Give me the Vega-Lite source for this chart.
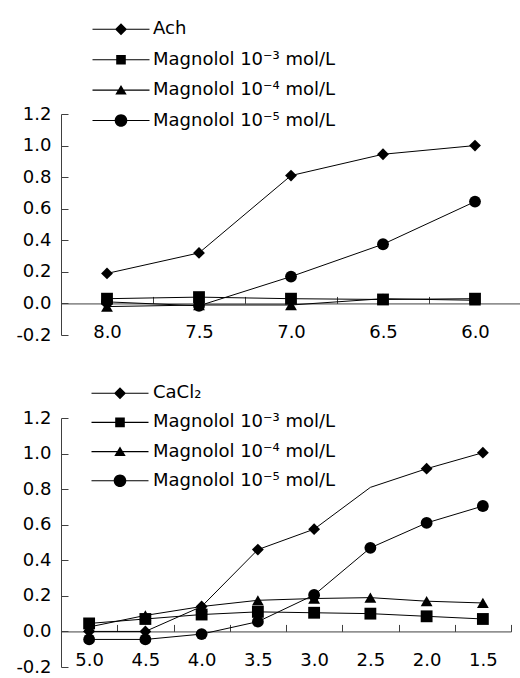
{
  "$schema": "https://vega.github.io/schema/vega-lite/v6.json",
  "padding": {"left": 15, "top": 20, "right": 0, "bottom": 0},
  "spacing": 40,
  "datasets": {
    "top": [
      {"x": "8.0", "s": "Ach", "v": 0.19},
      {"x": "7.5", "s": "Ach", "v": 0.32},
      {"x": "7.0", "s": "Ach", "v": 0.81},
      {"x": "6.5", "s": "Ach", "v": 0.945},
      {"x": "6.0", "s": "Ach", "v": 1.0},
      {"x": "8.0", "s": "Magnolol 10⁻³ mol/L", "v": 0.03},
      {"x": "7.5", "s": "Magnolol 10⁻³ mol/L", "v": 0.04},
      {"x": "7.0", "s": "Magnolol 10⁻³ mol/L", "v": 0.03},
      {"x": "6.5", "s": "Magnolol 10⁻³ mol/L", "v": 0.025},
      {"x": "6.0", "s": "Magnolol 10⁻³ mol/L", "v": 0.03},
      {"x": "8.0", "s": "Magnolol 10⁻⁴ mol/L", "v": -0.02},
      {"x": "7.5", "s": "Magnolol 10⁻⁴ mol/L", "v": -0.01},
      {"x": "7.0", "s": "Magnolol 10⁻⁴ mol/L", "v": -0.01},
      {"x": "6.5", "s": "Magnolol 10⁻⁴ mol/L", "v": 0.03},
      {"x": "6.0", "s": "Magnolol 10⁻⁴ mol/L", "v": 0.02},
      {"x": "8.0", "s": "Magnolol 10⁻⁵ mol/L", "v": 0.01},
      {"x": "7.5", "s": "Magnolol 10⁻⁵ mol/L", "v": -0.015},
      {"x": "7.0", "s": "Magnolol 10⁻⁵ mol/L", "v": 0.17},
      {"x": "6.5", "s": "Magnolol 10⁻⁵ mol/L", "v": 0.375},
      {"x": "6.0", "s": "Magnolol 10⁻⁵ mol/L", "v": 0.645}
    ],
    "bottom": [
      {"x": "5.0", "s": "CaCl₂", "v": 0.0},
      {"x": "4.5", "s": "CaCl₂", "v": 0.0},
      {"x": "4.0", "s": "CaCl₂", "v": 0.14},
      {"x": "3.5", "s": "CaCl₂", "v": 0.46},
      {"x": "3.0", "s": "CaCl₂", "v": 0.575},
      {"x": "2.5", "s": "CaCl₂", "v": 0.81},
      {"x": "2.0", "s": "CaCl₂", "v": 0.915},
      {"x": "1.5", "s": "CaCl₂", "v": 1.005},
      {"x": "5.0", "s": "Magnolol 10⁻³ mol/L", "v": 0.045},
      {"x": "4.5", "s": "Magnolol 10⁻³ mol/L", "v": 0.07},
      {"x": "4.0", "s": "Magnolol 10⁻³ mol/L", "v": 0.095},
      {"x": "3.5", "s": "Magnolol 10⁻³ mol/L", "v": 0.11},
      {"x": "3.0", "s": "Magnolol 10⁻³ mol/L", "v": 0.105},
      {"x": "2.5", "s": "Magnolol 10⁻³ mol/L", "v": 0.1},
      {"x": "2.0", "s": "Magnolol 10⁻³ mol/L", "v": 0.085},
      {"x": "1.5", "s": "Magnolol 10⁻³ mol/L", "v": 0.07},
      {"x": "5.0", "s": "Magnolol 10⁻⁴ mol/L", "v": 0.025},
      {"x": "4.5", "s": "Magnolol 10⁻⁴ mol/L", "v": 0.09},
      {"x": "4.0", "s": "Magnolol 10⁻⁴ mol/L", "v": 0.14},
      {"x": "3.5", "s": "Magnolol 10⁻⁴ mol/L", "v": 0.175},
      {"x": "3.0", "s": "Magnolol 10⁻⁴ mol/L", "v": 0.185},
      {"x": "2.5", "s": "Magnolol 10⁻⁴ mol/L", "v": 0.19},
      {"x": "2.0", "s": "Magnolol 10⁻⁴ mol/L", "v": 0.17},
      {"x": "1.5", "s": "Magnolol 10⁻⁴ mol/L", "v": 0.16},
      {"x": "5.0", "s": "Magnolol 10⁻⁵ mol/L", "v": -0.045},
      {"x": "4.5", "s": "Magnolol 10⁻⁵ mol/L", "v": -0.045},
      {"x": "4.0", "s": "Magnolol 10⁻⁵ mol/L", "v": -0.015},
      {"x": "3.5", "s": "Magnolol 10⁻⁵ mol/L", "v": 0.055},
      {"x": "3.0", "s": "Magnolol 10⁻⁵ mol/L", "v": 0.205},
      {"x": "2.5", "s": "Magnolol 10⁻⁵ mol/L", "v": 0.47},
      {"x": "2.0", "s": "Magnolol 10⁻⁵ mol/L", "v": 0.61},
      {"x": "1.5", "s": "Magnolol 10⁻⁵ mol/L", "v": 0.705}
    ]
  },
  "config": {
    "font": "DejaVu Sans",
    "view": {"stroke": null},
    "axis": {
      "grid": false,
      "title": null,
      "domainColor": "#404040",
      "tickColor": "#404040",
      "labelColor": "#000000",
      "labelFont": "DejaVu Sans",
      "labelFontSize": 18,
      "tickSize": -7,
      "domainWidth": 1,
      "tickWidth": 1
    },
    "axisX": {"labelAngle": 0, "tickBand": "extent", "labelPadding": 27, "labelBaseline": "top"},
    "axisY": {"labelPadding": 17},
    "legend": {
      "symbolSize": 144,
      "labelFontSize": 18,
      "labelFont": "DejaVu Sans",
      "labelColor": "#000000",
      "labelLimit": 0,
      "padding": 0,
      "symbolFillColor": "#000000",
      "symbolStrokeColor": "#000000",
      "symbolStrokeWidth": 1,
      "symbolOpacity": 1
    }
  },
  "resolve": {
    "scale": {"shape": "independent", "x": "independent", "y": "independent"},
    "legend": {"shape": "independent"}
  },
  "vconcat": [
    {
      "width": 460,
      "height": 221,
      "data": {"name": "top"},
      "encoding": {
        "x": {
          "field": "x", "type": "ordinal",
          "sort": ["8.0", "7.5", "7.0", "6.5", "6.0"],
          "scale": {"type": "band", "paddingInner": 0, "paddingOuter": 0},
          "axis": {"offset": -31.571}
        },
        "y": {
          "field": "v", "type": "quantitative",
          "scale": {"domain": [-0.2, 1.2], "nice": false, "zero": false},
          "axis": {"values": [-0.2, 0, 0.2, 0.4, 0.6, 0.8, 1.0, 1.2], "labelExpr": "replace(format(datum.value, '.1f'), '−', '-')"}
        }
      },
      "resolve": {"scale": {"shape": "independent"}, "legend": {"shape": "independent"}},
      "layer": [
        {
          "mark": {"type": "line", "color": "#000000", "strokeWidth": 1},
          "encoding": {"detail": {"field": "s", "type": "nominal"}}
        },
        {
          "mark": {"type": "point", "filled": true, "color": "#000000", "opacity": 1, "size": 140},
          "encoding": {
            "shape": {
              "field": "s", "type": "nominal",
              "scale": {"domain": ["Ach", "Magnolol 10⁻³ mol/L", "Magnolol 10⁻⁴ mol/L", "Magnolol 10⁻⁵ mol/L"], "range": ["diamond", "square", "triangle-up", "circle"]},
              "legend": null
            }
          }
        },
        {
          "transform": [{"filter": "false"}],
          "mark": {"type": "point", "filled": true, "color": "#000000", "opacity": 1},
          "encoding": {
            "shape": {
              "field": "s", "type": "nominal",
              "scale": {
                "domain": ["Ach", "Magnolol 10⁻³ mol/L", "Magnolol 10⁻⁴ mol/L", "Magnolol 10⁻⁵ mol/L"],
                "range": [
                  "M-4.75,-0.09L4.75,-0.09L4.75,0.09L-4.75,0.09ZM-1,0L0,-1L1,0L0,1Z",
                  "M-4.75,-0.09L4.75,-0.09L4.75,0.09L-4.75,0.09ZM-0.8,-0.8L0.8,-0.8L0.8,0.8L-0.8,0.8Z",
                  "M-4.75,-0.09L4.75,-0.09L4.75,0.09L-4.75,0.09ZM0,-0.85L0.95,0.75L-0.95,0.75Z",
                  "M-4.75,-0.09L4.75,-0.09L4.75,0.09L-4.75,0.09ZM-1.05,0A1.05,1.05,0,1,1,1.05,0A1.05,1.05,0,1,1,-1.05,0Z"
                ]
              },
              "legend": {
                "orient": "none", "title": null,
                "legendX": 51, "legendY": -93.7, "rowPadding": 12.4, "labelOffset": 23
              }
            }
          }
        }
      ]
    },
    {
      "width": 450,
      "height": 249,
      "data": {"name": "bottom"},
      "encoding": {
        "x": {
          "field": "x", "type": "ordinal",
          "sort": ["5.0", "4.5", "4.0", "3.5", "3.0", "2.5", "2.0", "1.5"],
          "scale": {"type": "band", "paddingInner": 0, "paddingOuter": 0},
          "axis": {"offset": -35.571}
        },
        "y": {
          "field": "v", "type": "quantitative",
          "scale": {"domain": [-0.2, 1.2], "nice": false, "zero": false},
          "axis": {"values": [-0.2, 0, 0.2, 0.4, 0.6, 0.8, 1.0, 1.2], "labelExpr": "replace(format(datum.value, '.1f'), '−', '-')"}
        }
      },
      "resolve": {"scale": {"shape": "independent"}, "legend": {"shape": "independent"}},
      "layer": [
        {
          "mark": {"type": "line", "color": "#000000", "strokeWidth": 1},
          "encoding": {"detail": {"field": "s", "type": "nominal"}}
        },
        {
          "transform": [{"filter": "!(datum.s == 'CaCl₂' && datum.x == '2.5')"}],
          "mark": {"type": "point", "filled": true, "color": "#000000", "opacity": 1, "size": 140},
          "encoding": {
            "shape": {
              "field": "s", "type": "nominal",
              "scale": {"domain": ["CaCl₂", "Magnolol 10⁻³ mol/L", "Magnolol 10⁻⁴ mol/L", "Magnolol 10⁻⁵ mol/L"], "range": ["diamond", "square", "triangle-up", "circle"]},
              "legend": null
            }
          }
        },
        {
          "transform": [{"filter": "false"}],
          "mark": {"type": "point", "filled": true, "color": "#000000", "opacity": 1},
          "encoding": {
            "shape": {
              "field": "s", "type": "nominal",
              "scale": {
                "domain": ["CaCl₂", "Magnolol 10⁻³ mol/L", "Magnolol 10⁻⁴ mol/L", "Magnolol 10⁻⁵ mol/L"],
                "range": [
                  "M-4.75,-0.09L4.75,-0.09L4.75,0.09L-4.75,0.09ZM-1,0L0,-1L1,0L0,1Z",
                  "M-4.75,-0.09L4.75,-0.09L4.75,0.09L-4.75,0.09ZM-0.8,-0.8L0.8,-0.8L0.8,0.8L-0.8,0.8Z",
                  "M-4.75,-0.09L4.75,-0.09L4.75,0.09L-4.75,0.09ZM0,-0.85L0.95,0.75L-0.95,0.75Z",
                  "M-4.75,-0.09L4.75,-0.09L4.75,0.09L-4.75,0.09ZM-1.05,0A1.05,1.05,0,1,1,1.05,0A1.05,1.05,0,1,1,-1.05,0Z"
                ]
              },
              "legend": {
                "orient": "none", "title": null,
                "legendX": 50, "legendY": -33.8, "rowPadding": 11.2, "labelOffset": 24
              }
            }
          }
        }
      ]
    }
  ]
}
